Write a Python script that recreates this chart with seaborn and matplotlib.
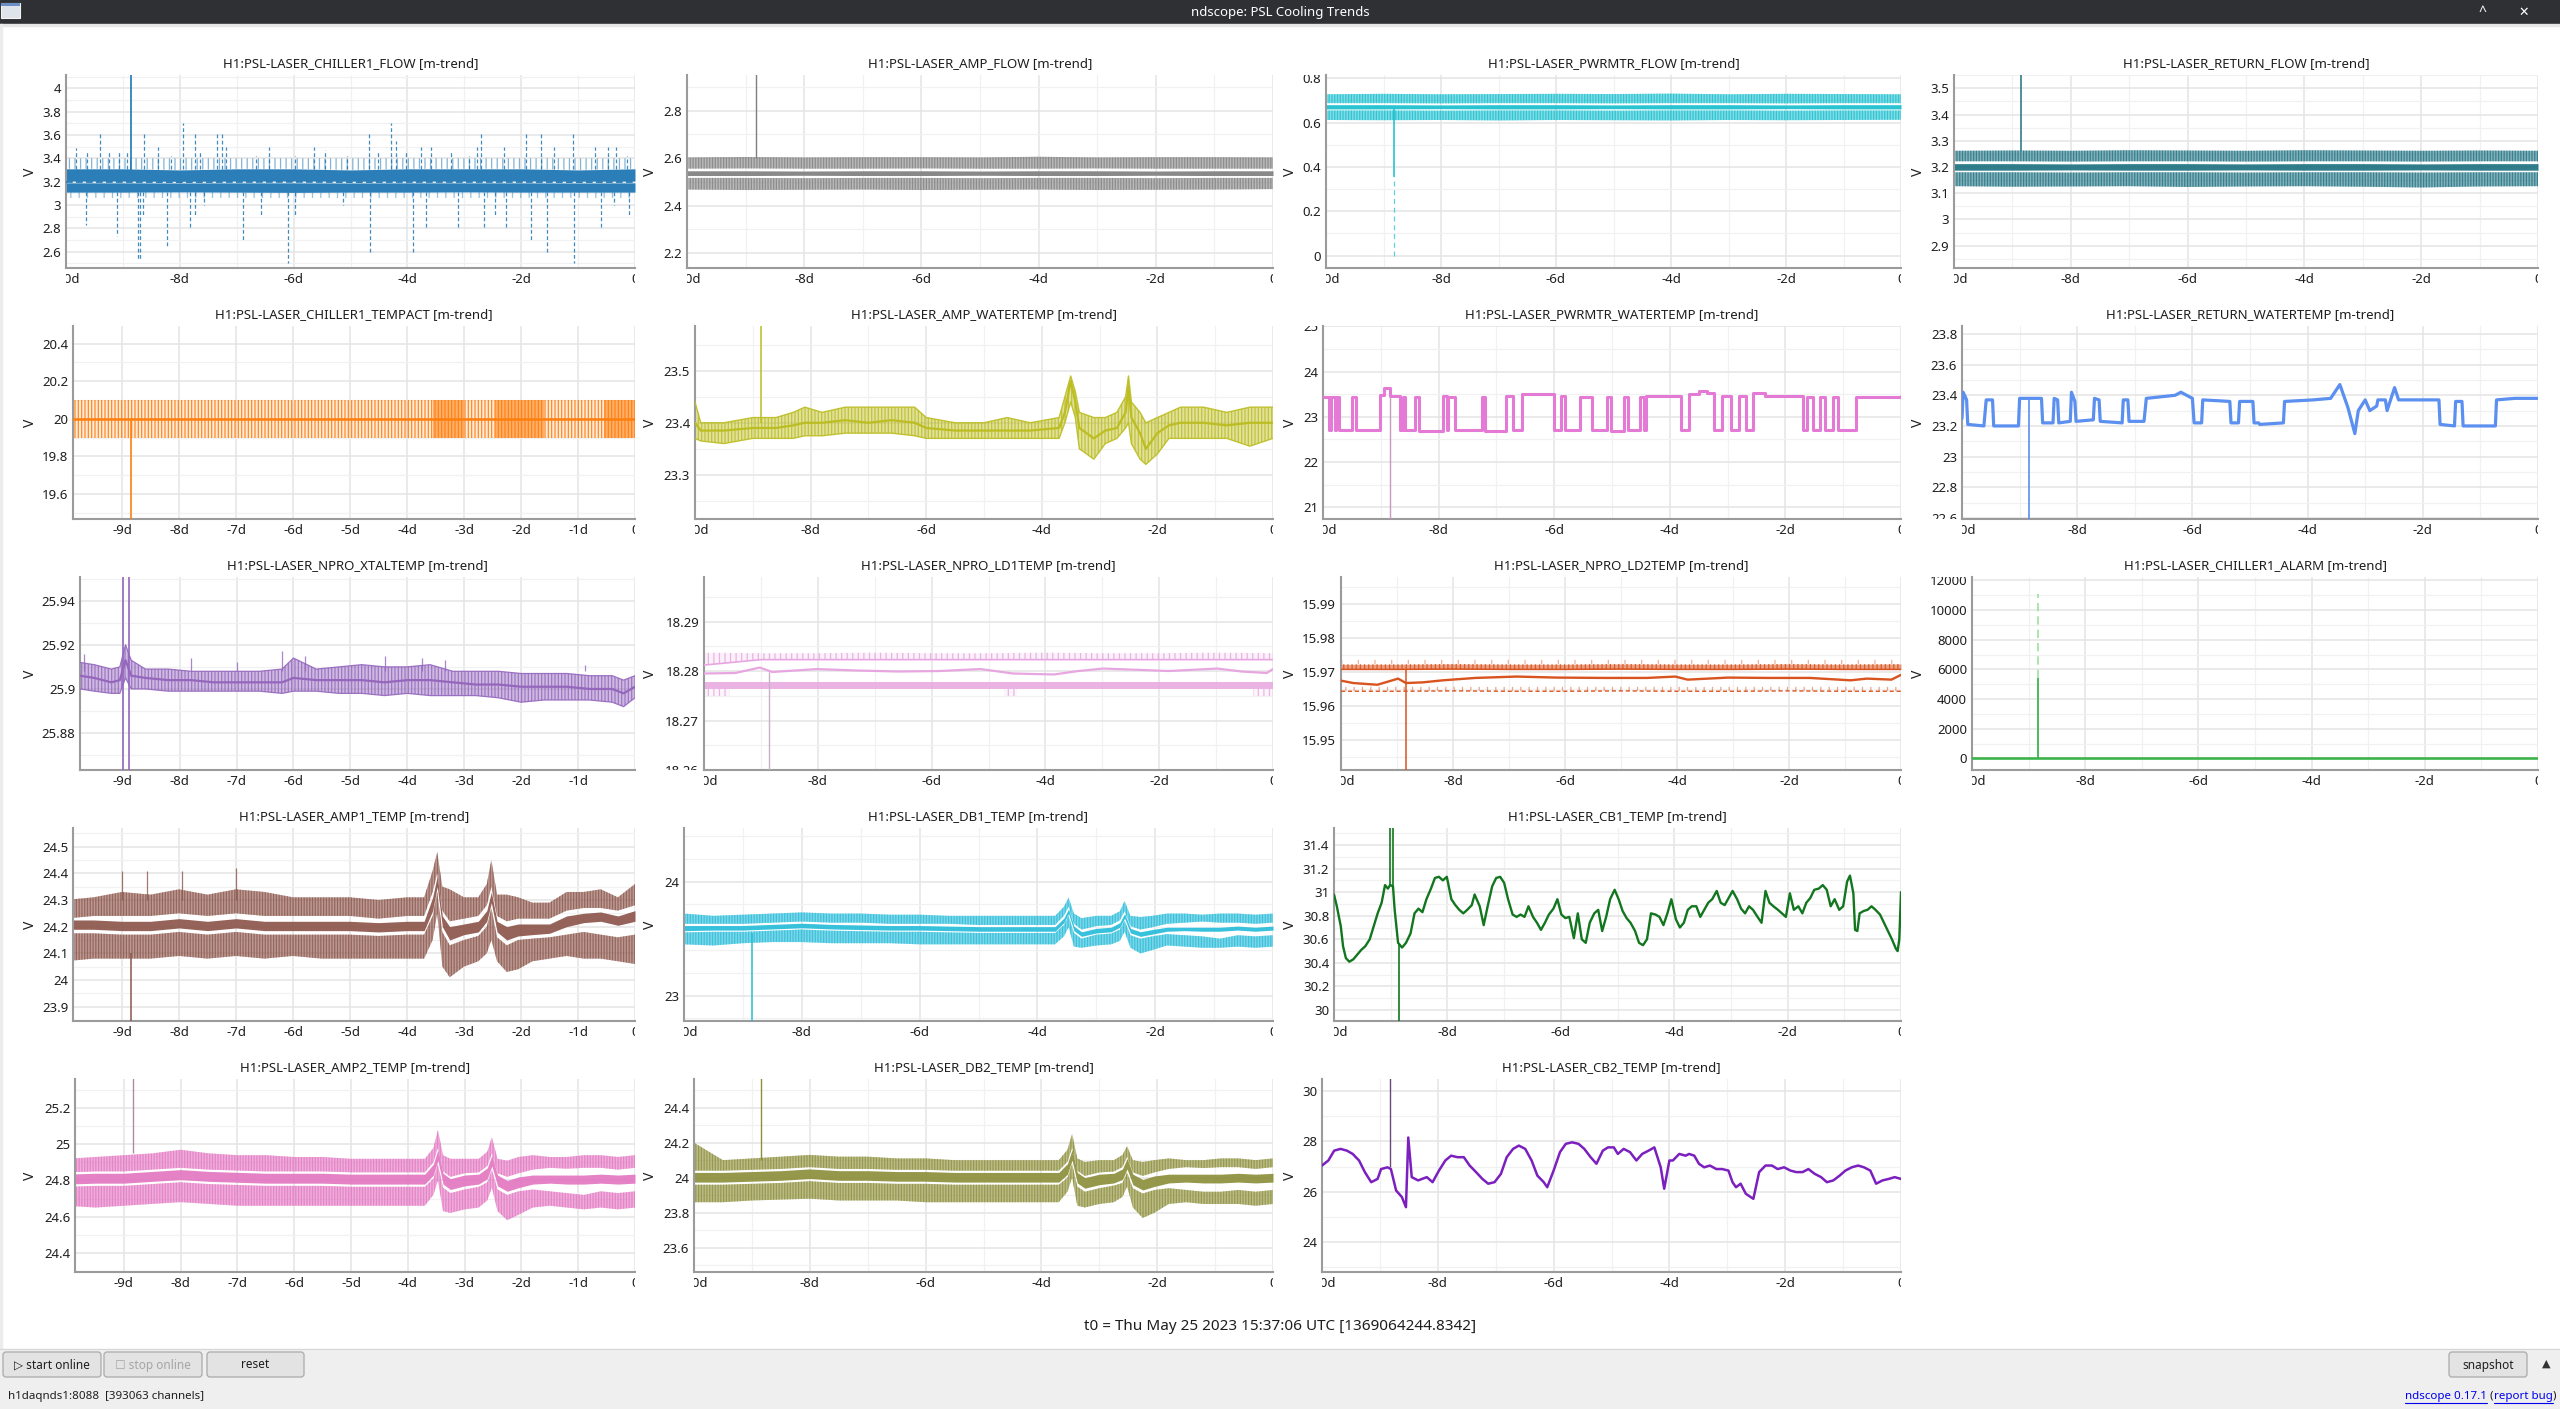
import numpy as np
import matplotlib
matplotlib.use("Agg")
import matplotlib.pyplot as plt
import seaborn as sns
from matplotlib.ticker import MultipleLocator, FixedLocator, FuncFormatter, NullLocator
from matplotlib.transforms import Bbox, TransformedBbox
from matplotlib.patches import Rectangle, FancyBboxPatch
from matplotlib.colors import to_rgba

# ======================= DATA (days relative to t0) =======================
T_FLAT = [-10, -9, -8, -7, -6, -5, -4, -3, -2, -1, 0]

# --- H1:PSL-LASER_CHILLER1_FLOW ---
cf_max_hi = [3.31, 3.31, 3.30, 3.31, 3.31, 3.30, 3.31, 3.31, 3.31, 3.30, 3.31]
cf_max_lo = [3.205, 3.205, 3.203, 3.205, 3.206, 3.204, 3.205, 3.205, 3.206, 3.204, 3.205]
cf_mean = [3.197, 3.197, 3.196, 3.197, 3.198, 3.196, 3.197, 3.197, 3.197, 3.196, 3.197]
cf_min_hi = [3.19, 3.19, 3.189, 3.19, 3.19, 3.189, 3.19, 3.19, 3.19, 3.189, 3.19]
cf_min_lo = [3.11, 3.11, 3.112, 3.11, 3.108, 3.11, 3.11, 3.112, 3.11, 3.11, 3.11]
cf_comb_top = 3.40
cf_comb_bot = 3.06
cf_up_t = [-9.82, -9.63, -9.40, -9.24, -9.06, -8.92, -8.63, -8.38, -8.15, -7.94, -7.74, -7.65, -7.35,
           -7.25, -7.19, -6.66, -6.43, -5.97, -5.65, -5.45, -5.06, -4.68, -4.52, -4.29, -4.20, -4.03,
           -3.76, -3.59, -3.23, -2.92, -2.77, -2.71, -2.31, -1.91, -1.66, -1.43, -1.09, -0.71, -0.48,
           -0.33, -0.14]
cf_up_v = [3.49, 3.45, 3.61, 3.45, 3.45, 3.45, 3.61, 3.50, 3.42, 3.70, 3.61, 3.45, 3.61,
           3.61, 3.50, 3.42, 3.50, 3.42, 3.50, 3.47, 3.42, 3.61, 3.45, 3.70, 3.55, 3.45,
           3.50, 3.50, 3.45, 3.42, 3.50, 3.61, 3.50, 3.61, 3.61, 3.50, 3.61, 3.50, 3.50,
           3.50, 3.42]
cf_dn_t = [-9.65, -9.10, -8.73, -8.70, -8.64, -8.22, -7.82, -7.74, -7.57, -6.89, -6.58, -6.10, -5.97,
           -5.13, -4.65, -3.91, -3.68, -3.11, -2.65, -2.46, -2.27, -1.82, -1.55, -1.08, -0.60, -0.37, -0.11]
cf_dn_v = [2.83, 2.73, 2.54, 2.54, 2.90, 2.64, 2.80, 2.90, 3.00, 2.70, 2.90, 2.50, 2.90,
           3.00, 2.60, 2.60, 2.80, 2.80, 2.80, 2.90, 2.80, 2.70, 2.60, 2.50, 2.80, 3.00, 2.90]
cf_glitch = (-8.85, 3.30, 4.30)

# --- H1:PSL-LASER_AMP_FLOW ---
af_max_hi = [2.603, 2.605, 2.603, 2.604, 2.604, 2.603, 2.606, 2.603, 2.604, 2.604, 2.603]
af_max_lo = [2.556, 2.557, 2.556, 2.556, 2.557, 2.556, 2.556, 2.557, 2.556, 2.556, 2.556]
af_mean_hi = [2.547, 2.547, 2.546, 2.547, 2.547, 2.546, 2.547, 2.547, 2.546, 2.547, 2.547]
af_mean_lo = [2.527, 2.527, 2.528, 2.527, 2.527, 2.528, 2.527, 2.527, 2.528, 2.527, 2.527]
af_min_hi = [2.517, 2.517, 2.516, 2.517, 2.517, 2.516, 2.517, 2.517, 2.516, 2.517, 2.517]
af_min_lo = [2.468, 2.466, 2.467, 2.468, 2.466, 2.467, 2.468, 2.466, 2.467, 2.468, 2.470]
af_glitch = (-8.82, 2.60, 3.00)

# --- H1:PSL-LASER_PWRMTR_FLOW ---
pf_max_hi = [0.728, 0.730, 0.728, 0.729, 0.730, 0.729, 0.731, 0.728, 0.730, 0.729, 0.728]
pf_max_lo = [0.688, 0.688, 0.687, 0.688, 0.688, 0.687, 0.688, 0.688, 0.687, 0.688, 0.688]
pf_mean_hi = [0.681, 0.681, 0.680, 0.681, 0.681, 0.680, 0.681, 0.681, 0.680, 0.681, 0.681]
pf_mean_lo = [0.662, 0.662, 0.663, 0.662, 0.662, 0.663, 0.662, 0.662, 0.663, 0.662, 0.662]
pf_min_hi = [0.655, 0.655, 0.654, 0.655, 0.655, 0.654, 0.655, 0.655, 0.654, 0.655, 0.655]
pf_min_lo = [0.612, 0.611, 0.612, 0.610, 0.612, 0.611, 0.610, 0.612, 0.611, 0.612, 0.613]
pf_glitch = (-8.82, 0.66, 0.356, 0.0)

# --- H1:PSL-LASER_RETURN_FLOW ---
rf_max_hi = [3.262, 3.263, 3.262, 3.264, 3.263, 3.262, 3.264, 3.263, 3.262, 3.263, 3.262]
rf_max_lo = [3.222, 3.222, 3.221, 3.222, 3.222, 3.221, 3.222, 3.222, 3.221, 3.222, 3.222]
rf_mean_hi = [3.213, 3.213, 3.212, 3.213, 3.213, 3.212, 3.213, 3.213, 3.212, 3.213, 3.213]
rf_mean_lo = [3.188, 3.188, 3.189, 3.188, 3.188, 3.189, 3.188, 3.188, 3.189, 3.188, 3.188]
rf_min_hi = [3.180, 3.180, 3.179, 3.180, 3.180, 3.179, 3.180, 3.180, 3.179, 3.180, 3.180]
rf_min_lo = [3.127, 3.125, 3.126, 3.127, 3.124, 3.126, 3.127, 3.125, 3.122, 3.126, 3.127]
rf_glitch = (-8.85, 3.26, 3.60)

# --- H1:PSL-LASER_CHILLER1_TEMPACT ---
ta_max = [20.1, 20.1, 20.1, 20.1, 20.1, 20.1, 20.1, 20.1, 20.1, 20.1, 20.1]
ta_mean = [20.0, 20.0, 20.0, 20.0, 20.0, 20.0, 20.0, 20.0, 20.0, 20.0, 20.0]
ta_min = [19.9, 19.9, 19.9, 19.9, 19.9, 19.9, 19.9, 19.9, 19.9, 19.9, 19.9]
ta_dense_t0 = [-3.55, -2.45, -0.55]
ta_dense_t1 = [-3.00, -1.60, 0.00]
ta_glitch = (-8.84, 20.0, 19.3)

# --- H1:PSL-LASER_AMP_WATERTEMP ---
aw_t = [-10, -9.9, -9.5, -9.0, -8.6, -8.3, -8.1, -7.8, -7.4, -7.0, -6.6, -6.2, -6.0, -5.5, -5.0, -4.6,
        -4.2, -3.7, -3.6, -3.5, -3.42, -3.35, -3.1, -2.9, -2.7, -2.55, -2.5, -2.45, -2.3, -2.2, -2.0,
        -1.8, -1.6, -1.2, -0.8, -0.4, 0]
aw_max = [23.44, 23.40, 23.40, 23.41, 23.41, 23.42, 23.43, 23.42, 23.43, 23.43, 23.43, 23.43, 23.41,
          23.40, 23.40, 23.41, 23.40, 23.41, 23.45, 23.49, 23.46, 23.42, 23.41, 23.41, 23.42, 23.45,
          23.49, 23.44, 23.42, 23.40, 23.41, 23.42, 23.43, 23.43, 23.42, 23.43, 23.43]
aw_mean = [23.40, 23.385, 23.385, 23.39, 23.39, 23.395, 23.40, 23.40, 23.405, 23.40, 23.405, 23.40,
           23.39, 23.385, 23.385, 23.385, 23.385, 23.39, 23.42, 23.48, 23.44, 23.39, 23.37, 23.385,
           23.39, 23.42, 23.47, 23.41, 23.38, 23.35, 23.38, 23.395, 23.40, 23.40, 23.395, 23.40, 23.40]
aw_min = [23.37, 23.365, 23.36, 23.37, 23.37, 23.37, 23.375, 23.375, 23.38, 23.38, 23.38, 23.375,
          23.37, 23.37, 23.37, 23.37, 23.37, 23.37, 23.40, 23.44, 23.41, 23.35, 23.33, 23.36, 23.37,
          23.39, 23.40, 23.36, 23.33, 23.32, 23.34, 23.37, 23.37, 23.37, 23.37, 23.355, 23.37]
aw_glitch = (-8.86, 23.40, 23.60)

# --- H1:PSL-LASER_PWRMTR_WATERTEMP (step levels, start times) ---
pw_t = [-10.00, -9.89, -9.86, -9.80, -9.78, -9.73, -9.49, -9.43, -9.01, -8.94, -8.84, -8.66, -8.62,
        -8.58, -8.40, -8.34, -7.92, -7.86, -7.84, -7.71, -7.60, -7.25, -7.19, -6.84, -6.71, -6.55,
        -6.01, -5.88, -5.81, -5.56, -5.34, -5.08, -5.02, -4.79, -4.73, -4.52, -4.45, -4.41, -3.80,
        -3.67, -3.50, -3.35, -3.23, -3.10, -2.94, -2.81, -2.68, -2.56, -2.35, -1.69, -1.63, -1.53,
        -1.41, -1.31, -1.18, -1.09, -0.77, 0.00]
pw_v = [23.45, 22.70, 23.45, 22.70, 23.45, 22.70, 23.45, 22.70, 23.48, 23.64, 23.47, 22.70, 23.45,
        22.70, 23.45, 22.69, 23.46, 22.70, 23.45, 22.70, 22.70, 23.45, 22.69, 23.46, 22.70, 23.50,
        22.70, 23.46, 22.70, 23.45, 22.70, 23.45, 22.69, 23.45, 22.70, 23.45, 22.70, 23.47, 22.70,
        23.50, 23.58, 23.52, 22.70, 23.46, 22.70, 23.46, 22.70, 23.52, 23.47, 22.70, 23.45, 22.70,
        23.45, 22.70, 23.45, 22.70, 23.45, 23.47]
pw_glitch = (-8.84, 23.45, 20.5)

# --- H1:PSL-LASER_RETURN_WATERTEMP ---
rw_t = [-10.00, -9.98, -9.92, -9.90, -9.62, -9.58, -9.47, -9.45, -9.02, -9.00, -8.62, -8.60, -8.42,
        -8.40, -8.34, -8.32, -8.12, -8.10, -8.04, -8.02, -7.72, -7.70, -7.62, -7.60, -7.22, -7.20,
        -7.12, -7.10, -6.84, -6.80, -6.30, -6.20, -6.00, -5.97, -5.84, -5.82, -5.35, -5.33, -5.20,
        -5.18, -4.95, -4.93, -4.85, -4.83, -4.42, -4.40, -3.90, -3.60, -3.44, -3.30, -3.18, -3.12,
        -3.00, -2.92, -2.80, -2.78, -2.65, -2.62, -2.49, -2.42, -2.10, -1.72, -1.70, -1.45, -1.43,
        -1.32, -1.30, -0.74, -0.72, -0.40, 0.00]
rw_v = [23.25, 23.42, 23.37, 23.21, 23.20, 23.37, 23.37, 23.20, 23.20, 23.38, 23.38, 23.22, 23.22,
        23.38, 23.37, 23.22, 23.23, 23.42, 23.36, 23.23, 23.24, 23.38, 23.37, 23.23, 23.22, 23.37,
        23.37, 23.23, 23.23, 23.38, 23.40, 23.42, 23.38, 23.22, 23.22, 23.37, 23.36, 23.22, 23.22,
        23.36, 23.36, 23.22, 23.22, 23.21, 23.22, 23.36, 23.37, 23.38, 23.47, 23.32, 23.15, 23.30,
        23.37, 23.30, 23.33, 23.37, 23.37, 23.30, 23.45, 23.37, 23.37, 23.37, 23.21, 23.20, 23.36,
        23.36, 23.20, 23.20, 23.37, 23.38, 23.38]
rw_glitch = (-8.84, 23.38, 22.4)

# --- H1:PSL-LASER_NPRO_XTALTEMP ---
xt_t = [-9.75, -9.5, -9.2, -9.05, -8.95, -8.85, -8.6, -8.2, -7.8, -7.4, -7.0, -6.6, -6.2, -6.0, -5.6,
        -5.2, -4.8, -4.4, -4.0, -3.6, -3.2, -2.8, -2.4, -2.0, -1.6, -1.2, -0.8, -0.4, -0.2, 0]
xt_max = [25.912, 25.911, 25.909, 25.910, 25.920, 25.913, 25.909, 25.909, 25.908, 25.908,
          25.908, 25.908, 25.909, 25.914, 25.909, 25.910, 25.911, 25.910, 25.910, 25.911,
          25.908, 25.908, 25.908, 25.907, 25.907, 25.907, 25.906, 25.906, 25.904, 25.906]
xt_mean = [25.906, 25.905, 25.903, 25.904, 25.913, 25.906, 25.905, 25.904, 25.904, 25.903,
           25.903, 25.903, 25.903, 25.905, 25.904, 25.904, 25.904, 25.903, 25.904, 25.904,
           25.903, 25.902, 25.902, 25.901, 25.901, 25.901, 25.900, 25.900, 25.898, 25.901]
xt_min = [25.900, 25.899, 25.898, 25.898, 25.905, 25.900, 25.900, 25.899, 25.899, 25.899,
          25.899, 25.899, 25.898, 25.899, 25.899, 25.898, 25.898, 25.897, 25.898, 25.897,
          25.897, 25.897, 25.896, 25.894, 25.895, 25.895, 25.895, 25.894, 25.892, 25.896]
xt_spk_t = [-9.68, -7.80, -7.00, -6.20, -5.80, -4.40, -3.75, -3.33, -0.87]
xt_spk_v = [25.916, 25.914, 25.912, 25.917, 25.915, 25.915, 25.914, 25.913, 25.911]
xt_glitch_t = [-9.00, -8.89]
xt_glitch_range = (25.80, 26.00)

# --- H1:PSL-LASER_NPRO_LD1TEMP ---
ld1_t = [-10, -9.45, -9.02, -8.8, -8.02, -7.3, -6.58, -5.86, -5.14, -4.57, -3.85, -3.42, -2.99,
         -2.27, -1.84, -0.98, -0.55, -0.11, 0]
ld1_mean = [18.2795, 18.2796, 18.2807, 18.2798, 18.2804, 18.2801, 18.2799, 18.2800, 18.2804,
            18.2795, 18.2793, 18.2800, 18.2805, 18.2802, 18.2800, 18.2805, 18.2799, 18.2796, 18.2804]
ld1_max_hi = [18.2837, 18.2836, 18.2836, 18.2837, 18.2836, 18.2836, 18.2837, 18.2836, 18.2836, 18.2837, 18.2836]
ld1_max_lo = [18.2812, 18.2823, 18.2823, 18.2823, 18.2823, 18.2823, 18.2823, 18.2823, 18.2823, 18.2823, 18.2823]
ld1_min_hi = [18.2777, 18.2777, 18.2777, 18.2777, 18.2777, 18.2777, 18.2777, 18.2777, 18.2777, 18.2777, 18.2777]
ld1_min_lo = [18.2763, 18.2763, 18.2763, 18.2763, 18.2763, 18.2763, 18.2763, 18.2763, 18.2763, 18.2763, 18.2763]
ld1_low_t0 = [-10.0, -4.72, -0.35]
ld1_low_t1 = [-9.55, -4.50, 0.0]
ld1_low_v = 18.2749
ld1_glitch = (-8.86, 18.2798, 18.25)

# --- H1:PSL-LASER_NPRO_LD2TEMP ---
ld2_t = [-10, -9.78, -9.35, -8.98, -8.84, -8.54, -8.18, -7.6, -6.87, -6.14, -5.27, -4.54, -4.03,
         -3.81, -3.09, -2.36, -1.63, -0.9, -0.61, -0.17, 0]
ld2_mean = [15.9674, 15.9667, 15.9662, 15.9680, 15.9667, 15.9669, 15.9675, 15.9682, 15.9686,
            15.9683, 15.9682, 15.9682, 15.9686, 15.9677, 15.9683, 15.9682, 15.9682, 15.9675,
            15.9680, 15.9677, 15.9691]
ld2_max_hi = [15.9722, 15.9722, 15.9723, 15.9722, 15.9722, 15.9723, 15.9722, 15.9722, 15.9723, 15.9722, 15.9723]
ld2_max_lo = [15.9707, 15.9707, 15.9708, 15.9707, 15.9707, 15.9708, 15.9707, 15.9707, 15.9708, 15.9707, 15.9707]
ld2_max_top = 15.9735
ld2_min_line = [15.9643, 15.9643, 15.9644, 15.9643, 15.9643, 15.9644, 15.9643, 15.9643, 15.9644, 15.9643, 15.9643]
ld2_min_streak = 15.9656
ld2_glitch = (-8.84, 15.9705, 15.93)

# --- H1:PSL-LASER_CHILLER1_ALARM ---
al_t = [-10, 0]
al_mean = [0, 0]
al_glitch = (-8.83, 0, 5400, 11100)

# --- shared grid for AMP1/DB1/AMP2/DB2 ---
T_B = [-10, -9.5, -9, -8.5, -8, -7.5, -7, -6.5, -6, -5.5, -5, -4.5, -4, -3.7, -3.55, -3.47, -3.38,
       -3.25, -3.0, -2.75, -2.6, -2.52, -2.42, -2.25, -2.05, -1.8, -1.5, -1.2, -0.9, -0.6, -0.3, 0]

# --- H1:PSL-LASER_AMP1_TEMP ---
a1_max_hi = [24.30, 24.31, 24.33, 24.32, 24.34, 24.32, 24.34, 24.33, 24.31, 24.31, 24.31, 24.30, 24.31, 24.31,
             24.41, 24.48, 24.35, 24.34, 24.31, 24.31, 24.36, 24.45, 24.32, 24.32, 24.31, 24.29, 24.29, 24.33,
             24.33, 24.34, 24.31, 24.36]
a1_max_lo = [24.23, 24.24, 24.24, 24.24, 24.25, 24.24, 24.25, 24.24, 24.24, 24.24, 24.24, 24.23, 24.24, 24.24,
             24.33, 24.40, 24.26, 24.22, 24.23, 24.24, 24.28, 24.35, 24.24, 24.22, 24.23, 24.23, 24.23, 24.26,
             24.27, 24.27, 24.26, 24.28]
a1_mean_hi = [24.225, 24.225, 24.22, 24.22, 24.23, 24.22, 24.23, 24.22, 24.22, 24.22, 24.22, 24.215, 24.22, 24.22,
              24.31, 24.39, 24.24, 24.20, 24.21, 24.22, 24.26, 24.33, 24.22, 24.20, 24.21, 24.21, 24.21, 24.24,
              24.25, 24.255, 24.24, 24.26]
a1_mean_lo = [24.19, 24.19, 24.185, 24.185, 24.195, 24.185, 24.195, 24.185, 24.185, 24.185, 24.185, 24.18, 24.185,
              24.185, 24.26, 24.35, 24.20, 24.15, 24.17, 24.18, 24.22, 24.29, 24.18, 24.15, 24.165, 24.17, 24.175,
              24.20, 24.215, 24.22, 24.205, 24.22]
a1_min_hi = [24.175, 24.175, 24.17, 24.17, 24.18, 24.17, 24.18, 24.17, 24.17, 24.17, 24.17, 24.165, 24.17, 24.17,
             24.24, 24.33, 24.18, 24.13, 24.15, 24.165, 24.20, 24.27, 24.16, 24.13, 24.15, 24.155, 24.16, 24.17,
             24.18, 24.17, 24.16, 24.17]
a1_min_lo = [24.07, 24.08, 24.08, 24.08, 24.09, 24.08, 24.09, 24.08, 24.09, 24.08, 24.08, 24.08, 24.08, 24.08,
             24.15, 24.25, 24.05, 24.01, 24.05, 24.07, 24.10, 24.15, 24.07, 24.03, 24.04, 24.07, 24.08, 24.09,
             24.08, 24.08, 24.07, 24.06]
a1_spk_t = [-9.00, -8.57, -7.95, -7.00]
a1_spk_v = [24.41, 24.41, 24.41, 24.42]
a1_glitch = (-8.84, 24.10, 23.80)

# --- H1:PSL-LASER_DB1_TEMP ---
d1_max_hi = [23.72, 23.70, 23.71, 23.72, 23.73, 23.72, 23.72, 23.71, 23.71, 23.70, 23.70, 23.70, 23.70, 23.70,
             23.78, 23.86, 23.72, 23.68, 23.70, 23.70, 23.74, 23.83, 23.70, 23.69, 23.70, 23.72, 23.72, 23.71,
             23.72, 23.72, 23.71, 23.72]
d1_max_lo = [23.63, 23.63, 23.63, 23.64, 23.65, 23.64, 23.64, 23.63, 23.63, 23.63, 23.62, 23.62, 23.62, 23.62,
             23.70, 23.78, 23.63, 23.58, 23.61, 23.62, 23.66, 23.74, 23.61, 23.58, 23.60, 23.63, 23.64, 23.65,
             23.64, 23.64, 23.63, 23.64]
d1_mean_hi = [23.615, 23.615, 23.615, 23.625, 23.635, 23.625, 23.62, 23.615, 23.615, 23.61, 23.605, 23.605, 23.605,
              23.605, 23.68, 23.76, 23.61, 23.56, 23.59, 23.60, 23.64, 23.72, 23.59, 23.56, 23.58, 23.60, 23.60,
              23.60, 23.60, 23.61, 23.60, 23.61]
d1_mean_lo = [23.57, 23.575, 23.575, 23.585, 23.595, 23.585, 23.58, 23.575, 23.575, 23.57, 23.565, 23.565, 23.565,
              23.565, 23.64, 23.72, 23.57, 23.52, 23.55, 23.56, 23.60, 23.68, 23.55, 23.52, 23.54, 23.565, 23.57,
              23.565, 23.565, 23.575, 23.565, 23.575]
d1_min_hi = [23.555, 23.56, 23.56, 23.57, 23.58, 23.57, 23.565, 23.56, 23.56, 23.555, 23.55, 23.55, 23.55, 23.55,
             23.62, 23.70, 23.55, 23.50, 23.535, 23.545, 23.58, 23.66, 23.53, 23.50, 23.52, 23.54, 23.53, 23.52,
             23.50, 23.53, 23.52, 23.53]
d1_min_lo = [23.45, 23.44, 23.46, 23.47, 23.47, 23.46, 23.46, 23.46, 23.45, 23.45, 23.45, 23.45, 23.45, 23.45,
             23.52, 23.60, 23.43, 23.42, 23.44, 23.45, 23.48, 23.56, 23.42, 23.37, 23.40, 23.44, 23.43, 23.42,
             23.42, 23.43, 23.42, 23.43]
d1_glitch = (-8.85, 23.55, 22.70)

# --- H1:PSL-LASER_CB1_TEMP ---
cb1_t = [-10.00, -9.95, -9.88, -9.84, -9.79,
         -9.73, -9.66, -9.59, -9.52, -9.45, -9.37, -9.30, -9.23, -9.16,
         -9.10, -9.05, -9.01, -8.96, -8.93,
         -8.87,
         -8.80, -8.73, -8.65, -8.58, -8.51, -8.44, -8.37, -8.29, -8.22, -8.15, -8.08, -8.01, -7.93, -7.86,
         -7.79, -7.72, -7.65, -7.57,
         -7.52,
         -7.43, -7.36, -7.29, -7.21, -7.14, -7.07, -7.00, -6.93, -6.85, -6.78,
         -6.71, -6.64, -6.57, -6.49, -6.42, -6.35, -6.28, -6.21, -6.13, -6.06,
         -5.99, -5.92, -5.85, -5.77, -5.70, -5.63, -5.56, -5.49, -5.41, -5.34,
         -5.27, -5.20, -5.13, -5.05, -4.98, -4.91, -4.84, -4.77, -4.69, -4.62,
         -4.55, -4.48, -4.41, -4.33, -4.26, -4.19, -4.12, -4.05, -3.97, -3.90,
         -3.83, -3.76, -3.69, -3.61, -3.54, -3.47, -3.40, -3.33, -3.25, -3.18,
         -3.11, -3.04, -2.97, -2.89, -2.82, -2.75, -2.68, -2.61, -2.53, -2.46,
         -2.39, -2.32, -2.25, -2.17, -2.10, -2.03, -1.96, -1.89, -1.81, -1.74,
         -1.67, -1.60, -1.53, -1.45, -1.38, -1.31, -1.24, -1.17, -1.09, -1.02,
         -0.95,
         -0.90, -0.84, -0.81, -0.77, -0.73,
         -0.66, -0.59, -0.52, -0.45, -0.37, -0.30, -0.23, -0.16, -0.09,
         -0.06, -0.03, 0.00]
cb1_v = [30.98, 30.88, 30.71, 30.54, 30.44,
         30.41, 30.43, 30.47, 30.51, 30.54, 30.60, 30.71, 30.82, 30.91,
         31.06, 31.03, 31.06, 31.05, 30.85,
         30.57,
         30.53, 30.57, 30.65, 30.82, 30.86, 30.83, 30.94, 31.03, 31.12, 31.13, 31.10, 31.13, 30.94, 30.89,
         30.85, 30.82, 30.85, 30.89,
         30.98,
         30.88, 30.72, 30.88, 31.05, 31.12, 31.13, 31.08, 30.94, 30.81, 30.79,
         30.81, 30.79, 30.88, 30.79, 30.74, 30.68, 30.74, 30.81, 30.86, 30.94,
         30.81, 30.78, 30.79, 30.61, 30.82, 30.60, 30.57, 30.74, 30.82, 30.85,
         30.67, 30.79, 30.94, 31.02, 30.94, 30.84, 30.78, 30.74, 30.67, 30.57,
         30.55, 30.60, 30.82, 30.81, 30.79, 30.72, 30.82, 30.94, 30.77, 30.70,
         30.74, 30.85, 30.88, 30.88, 30.79, 30.85, 30.91, 30.94, 31.01, 30.91,
         30.89, 30.95, 31.01, 30.94, 30.86, 30.82, 30.88, 30.85, 30.79, 30.74,
         31.01, 30.91, 30.88, 30.85, 30.82, 30.79, 30.99, 30.85, 30.88, 30.82,
         30.91, 30.95, 31.02, 31.03, 31.06, 31.02, 30.88, 30.94, 30.85, 30.88,
         31.09,
         31.14, 30.99, 30.68, 30.67, 30.82,
         30.84, 30.85, 30.88, 30.85, 30.81, 30.74, 30.67, 30.60, 30.52,
         30.50, 30.60, 31.00]
cb1_glitch_up_t = [-9.01, -8.96]
cb1_glitch_up = (31.05, 31.70)
cb1_glitch_dn = (-8.86, 30.55, 29.80)

# --- H1:PSL-LASER_AMP2_TEMP ---
a2_max_hi = [24.92, 24.93, 24.94, 24.95, 24.97, 24.95, 24.94, 24.94, 24.93, 24.93, 24.92, 24.92, 24.92, 24.92,
             24.98, 25.08, 24.94, 24.92, 24.92, 24.92, 24.96, 25.04, 24.92, 24.91, 24.93, 24.94, 24.93, 24.93,
             24.94, 24.94, 24.93, 24.94]
a2_max_lo = [24.845, 24.85, 24.85, 24.86, 24.87, 24.86, 24.855, 24.85, 24.85, 24.85, 24.845, 24.845, 24.845,
             24.845, 24.90, 24.98, 24.85, 24.82, 24.84, 24.845, 24.88, 24.95, 24.84, 24.82, 24.84, 24.86, 24.87,
             24.865, 24.87, 24.87, 24.86, 24.87]
a2_mean_hi = [24.835, 24.84, 24.84, 24.85, 24.86, 24.85, 24.845, 24.84, 24.84, 24.84, 24.835, 24.835, 24.835,
              24.835, 24.89, 24.97, 24.84, 24.81, 24.83, 24.835, 24.87, 24.94, 24.83, 24.80, 24.82, 24.83, 24.83,
              24.83, 24.83, 24.835, 24.83, 24.835]
a2_mean_lo = [24.78, 24.785, 24.785, 24.795, 24.805, 24.795, 24.79, 24.785, 24.785, 24.785, 24.78, 24.78, 24.78,
              24.78, 24.83, 24.91, 24.78, 24.75, 24.77, 24.78, 24.81, 24.88, 24.77, 24.74, 24.76, 24.78, 24.785,
              24.78, 24.78, 24.785, 24.78, 24.785]
a2_min_hi = [24.765, 24.77, 24.77, 24.78, 24.79, 24.78, 24.775, 24.77, 24.77, 24.77, 24.765, 24.765, 24.765,
             24.765, 24.81, 24.89, 24.76, 24.73, 24.75, 24.765, 24.79, 24.86, 24.75, 24.72, 24.74, 24.75, 24.74,
             24.73, 24.72, 24.74, 24.73, 24.74]
a2_min_lo = [24.66, 24.65, 24.66, 24.67, 24.68, 24.67, 24.66, 24.66, 24.66, 24.66, 24.66, 24.66, 24.66, 24.66,
             24.72, 24.80, 24.63, 24.62, 24.64, 24.65, 24.69, 24.76, 24.63, 24.58, 24.61, 24.65, 24.66, 24.65,
             24.64, 24.65, 24.64, 24.65]
a2_glitch = (-8.83, 24.95, 25.40)

# --- H1:PSL-LASER_DB2_TEMP ---
d2_max_hi = [24.20, 24.10, 24.11, 24.12, 24.13, 24.12, 24.12, 24.11, 24.11, 24.10, 24.10, 24.10, 24.10, 24.10,
             24.16, 24.25, 24.11, 24.09, 24.10, 24.10, 24.13, 24.18, 24.10, 24.09, 24.10, 24.11, 24.10, 24.10,
             24.11, 24.11, 24.10, 24.11]
d2_max_lo = [24.04, 24.04, 24.045, 24.05, 24.06, 24.05, 24.05, 24.045, 24.045, 24.04, 24.04, 24.04, 24.04, 24.04,
             24.09, 24.17, 24.04, 24.01, 24.03, 24.035, 24.06, 24.12, 24.03, 24.01, 24.03, 24.05, 24.06, 24.055,
             24.06, 24.06, 24.05, 24.06]
d2_mean_hi = [24.03, 24.03, 24.035, 24.04, 24.05, 24.04, 24.04, 24.035, 24.035, 24.03, 24.03, 24.03, 24.03, 24.03,
              24.08, 24.16, 24.03, 24.00, 24.02, 24.025, 24.05, 24.11, 24.02, 23.99, 24.01, 24.02, 24.02, 24.02,
              24.02, 24.025, 24.02, 24.025]
d2_mean_lo = [23.975, 23.975, 23.98, 23.985, 23.995, 23.985, 23.985, 23.98, 23.98, 23.975, 23.975, 23.975, 23.975,
              23.975, 24.02, 24.10, 23.97, 23.94, 23.96, 23.97, 23.99, 24.05, 23.96, 23.93, 23.95, 23.97, 23.975,
              23.97, 23.97, 23.975, 23.97, 23.975]
d2_min_hi = [23.96, 23.96, 23.965, 23.97, 23.98, 23.97, 23.97, 23.965, 23.965, 23.96, 23.96, 23.96, 23.96, 23.96,
             24.00, 24.08, 23.95, 23.92, 23.94, 23.955, 23.97, 24.03, 23.94, 23.91, 23.93, 23.94, 23.93, 23.92,
             23.92, 23.93, 23.92, 23.93]
d2_min_lo = [23.86, 23.86, 23.87, 23.875, 23.88, 23.87, 23.87, 23.87, 23.86, 23.86, 23.86, 23.86, 23.86, 23.86,
             23.92, 24.00, 23.84, 23.83, 23.85, 23.86, 23.89, 23.95, 23.83, 23.77, 23.80, 23.85, 23.86, 23.85,
             23.85, 23.85, 23.84, 23.85]
d2_glitch = (-8.85, 24.10, 24.70)

# --- H1:PSL-LASER_CB2_TEMP ---
cb2_t = [-10.00, -9.89, -9.79, -9.68, -9.57, -9.47, -9.36, -9.26, -9.15, -9.04,
         -8.98, -8.87, -8.81, -8.72, -8.62, -8.55, -8.51, -8.45, -8.34, -8.19,
         -8.09, -7.98, -7.87, -7.77, -7.66, -7.55, -7.45, -7.34, -7.23, -7.13,
         -7.02, -6.91, -6.81, -6.70, -6.60, -6.49, -6.38, -6.28, -6.17, -6.11,
         -6.00, -5.89, -5.79, -5.68, -5.57, -5.47, -5.36, -5.26, -5.15, -5.06,
         -4.96, -4.89, -4.79, -4.68, -4.57, -4.47, -4.36, -4.26, -4.15, -4.09,
         -4.00, -3.94, -3.83, -3.72, -3.66, -3.57, -3.49, -3.40, -3.30, -3.19,
         -3.09, -2.98, -2.91, -2.85, -2.77, -2.68, -2.55, -2.45, -2.34, -2.23,
         -2.13, -2.02, -1.91, -1.81, -1.70, -1.60, -1.49, -1.38, -1.28, -1.17,
         -1.06, -0.96, -0.85, -0.74, -0.64, -0.53, -0.43, -0.32, -0.21, -0.11,
         0.00]
cb2_v = [27.04, 27.24, 27.63, 27.70, 27.63, 27.50, 27.24, 26.78, 26.38, 26.51,
         26.90, 26.97, 26.90, 26.05, 25.79, 25.39, 28.15, 26.58, 26.45, 26.58,
         26.38, 26.84, 27.24, 27.43, 27.37, 27.37, 27.04, 26.78, 26.51, 26.32,
         26.38, 26.71, 27.37, 27.70, 27.83, 27.70, 27.24, 26.64, 26.38, 26.18,
         26.84, 27.57, 27.90, 27.96, 27.90, 27.70, 27.37, 27.11, 27.63, 27.76,
         27.76, 27.50, 27.70, 27.57, 27.24, 27.50, 27.63, 27.76, 26.97, 26.12,
         27.24, 27.24, 27.50, 27.43, 27.50, 27.43, 27.11, 26.97, 27.04, 26.90,
         26.90, 26.84, 26.38, 26.18, 26.32, 25.92, 25.72, 26.78, 27.04, 27.04,
         26.90, 26.97, 26.84, 26.78, 26.78, 26.90, 26.71, 26.58, 26.38, 26.45,
         26.64, 26.84, 26.97, 27.04, 26.97, 26.84, 26.32, 26.45, 26.51, 26.58,
         26.51]
cb2_glitch = (-8.83, 27.00, 31.00)

# ======================= STYLE / LAYOUT =======================
sns.set_theme(style="white")
plt.rcParams["font.family"] = ["Noto Sans", "DejaVu Sans"]
plt.rcParams["hatch.linewidth"] = 0.9

W, H = 2560, 1409
fig = plt.figure(figsize=(W / 100, H / 100), dpi=100)
fig.patch.set_facecolor("white")

deco = fig.add_axes([0, 0, 1, 1])
deco.set_xlim(0, W)
deco.set_ylim(H, 0)
deco.axis("off")
deco.set_zorder(0)

ROW_TB = [(75, 268), (326, 519), (577, 770), (828, 1021), (1079, 1272)]
COL_R = [635, 1273, 1901, 2538]
LEFTS = [[66, 687, 1326, 1954], [73, 695, 1323, 1962], [80, 704, 1341, 1972],
         [73, 684, 1334, None], [75, 694, 1322, None]]
YLAB_X = [30, 651, 1290, 1918]
TXT = "#1e1e1e"


def yfmt(v, pos):
    s = f"{v:.6f}".rstrip("0").rstrip(".")
    return "0" if s in ("-0", "") else s


def new_ax(r, c):
    top, bot = ROW_TB[r]
    left, right = LEFTS[r][c], COL_R[c]
    ax = fig.add_axes([left / W, 1 - bot / H, (right - left) / W, (bot - top) / H])
    ax.set_zorder(2)
    return ax


def style(ax, r, c, title, ylim, ymaj, ymin, xmode, xlim=(-10, 0), zero=True):
    top, bot = ROW_TB[r]
    left, right = LEFTS[r][c], COL_R[c]
    ax.set_facecolor("white")
    ax.set_xlim(*xlim)
    ax.set_ylim(*ylim)
    ax.set_xlabel("")
    ax.set_ylabel("")
    for s in ("top", "right"):
        ax.spines[s].set_visible(False)
    for s in ("left", "bottom"):
        ax.spines[s].set_color("#9b9b9b")
        ax.spines[s].set_linewidth(1.5)
    ax.yaxis.set_major_locator(MultipleLocator(ymaj))
    ax.yaxis.set_minor_locator(MultipleLocator(ymin))
    ax.yaxis.set_major_formatter(FuncFormatter(yfmt))
    if xmode == "2d":
        ticks = [-10, -8, -6, -4, -2, 0]
        labels = ["-10d", "-8d", "-6d", "-4d", "-2d", "0"]
        ax.xaxis.set_minor_locator(FixedLocator([-9, -7, -5, -3, -1]))
    else:
        ticks = list(range(-9, 1))
        labels = [f"{t}d" for t in range(-9, 0)] + (["0"] if zero else [""])
        ax.xaxis.set_minor_locator(NullLocator())
    ax.xaxis.set_major_locator(FixedLocator(ticks))
    ax.set_xticklabels(labels)
    ax.set_axisbelow(True)
    ax.grid(True, which="major", color="#e4e4e4", linewidth=1.1)
    ax.grid(True, which="minor", color="#f1f1f1", linewidth=0.9)
    ax.tick_params(axis="both", which="both", length=0, labelsize=9.5, labelcolor=TXT, pad=3.5)
    ax.set_title(title, fontsize=9.5, color=TXT, pad=6)
    ax.text((YLAB_X[c] - left) / (right - left), 0.5, "V", transform=ax.transAxes, rotation=90,
            ha="center", va="center", fontsize=10, color=TXT, clip_on=False)
    xclip = TransformedBbox(Bbox([[0, -1], [1, 0.5]]), ax.transAxes)
    for lab in ax.get_xticklabels():
        lab.set_clip_box(xclip)
        lab.set_clip_on(True)
    yclip = TransformedBbox(Bbox([[-1, 0], [0.5, 1]]), ax.transAxes)
    for lab in ax.get_yticklabels():
        lab.set_clip_box(yclip)
        lab.set_clip_on(True)


def fill(ax, t, lo, hi, color, alpha, z=2):
    ax.fill_between(t, lo, hi, color=color, alpha=alpha, linewidth=0, zorder=z)


def hatch(ax, t, lo, hi, color, a_face, a_edge, pattern="||||", z=2):
    ax.fill_between(t, lo, hi, facecolor=to_rgba(color, a_face), edgecolor=to_rgba(color, a_edge),
                    hatch=pattern, linewidth=0, zorder=z)


def line(ax, t, v, color, lw, ls="-", alpha=1.0, z=3, **kw):
    sns.lineplot(x=t, y=v, ax=ax, color=color, linewidth=lw, linestyle=ls, alpha=alpha,
                 estimator=None, sort=False, zorder=z, **kw)


def spikes(ax, t, lo, hi, color, lw=0.9, ls="-", alpha=1.0):
    ax.vlines(t, lo, hi, colors=[to_rgba(color, alpha)], linewidth=lw, linestyles=ls, zorder=3)


def three_bands(ax, t, mx_lo, mx_hi, mn_lo, mn_hi, mi_lo, mi_hi, color, a_side=0.55, a_mid=0.92):
    # noisy min / max traces: light fill with dense vertical streak texture
    hatch(ax, t, mx_lo, mx_hi, color, a_side, 0.75, "||||||")
    fill(ax, t, mn_lo, mn_hi, color, a_mid)
    hatch(ax, t, mi_lo, mi_hi, color, a_side, 0.75, "||||||")


# ======================= PANELS =======================
# Row 1
c = "#1f77b4"
ax = new_ax(0, 0)
fill(ax, T_FLAT, cf_max_lo, cf_max_hi, c, 0.95)
fill(ax, T_FLAT, cf_min_lo, cf_min_hi, c, 0.95)
hatch(ax, T_FLAT, cf_max_hi, [cf_comb_top] * len(T_FLAT), c, 0.0, 0.55, "|||")
hatch(ax, T_FLAT, [cf_comb_bot] * len(T_FLAT), cf_min_lo, c, 0.0, 0.45, "||")
line(ax, T_FLAT, cf_mean, c, 1.2, ls=(0, (4, 2)))
spikes(ax, cf_up_t, cf_max_hi[0], cf_up_v, c, lw=0.9, ls=(0, (3, 2)), alpha=0.85)
spikes(ax, cf_dn_t, cf_min_lo[0], cf_dn_v, c, lw=0.9, ls=(0, (3, 2)), alpha=0.85)
spikes(ax, [cf_glitch[0]], cf_glitch[1], cf_glitch[2], c, lw=1.2)
style(ax, 0, 0, "H1:PSL-LASER_CHILLER1_FLOW [m-trend]", (2.46, 4.114), 0.2, 0.1, "2d")

c = "#7f7f7f"
ax = new_ax(0, 1)
three_bands(ax, T_FLAT, af_max_lo, af_max_hi, af_mean_lo, af_mean_hi, af_min_lo, af_min_hi, c)
spikes(ax, [af_glitch[0]], af_glitch[1], af_glitch[2], c, lw=1.0)
style(ax, 0, 1, "H1:PSL-LASER_AMP_FLOW [m-trend]", (2.138, 2.95), 0.2, 0.1, "2d")

c = "#17becf"
ax = new_ax(0, 2)
three_bands(ax, T_FLAT, pf_max_lo, pf_max_hi, pf_mean_lo, pf_mean_hi, pf_min_lo, pf_min_hi, c)
spikes(ax, [pf_glitch[0]], pf_glitch[2], pf_glitch[1], c, lw=1.1)
spikes(ax, [pf_glitch[0]], pf_glitch[3], pf_glitch[2], c, lw=0.9, ls=(0, (4, 3)), alpha=0.7)
style(ax, 0, 2, "H1:PSL-LASER_PWRMTR_FLOW [m-trend]", (-0.056, 0.815), 0.2, 0.1, "2d")

c = "#1f7282"
ax = new_ax(0, 3)
three_bands(ax, T_FLAT, rf_max_lo, rf_max_hi, rf_mean_lo, rf_mean_hi, rf_min_lo, rf_min_hi, c)
spikes(ax, [rf_glitch[0]], rf_glitch[1], rf_glitch[2], c, lw=1.1)
style(ax, 0, 3, "H1:PSL-LASER_RETURN_FLOW [m-trend]", (2.815, 3.551), 0.1, 0.05, "2d")

# Row 2
c = "#ff7f0e"
ax = new_ax(1, 0)
hatch(ax, T_FLAT, ta_mean, ta_max, c, 0.15, 0.9, "|||||")
hatch(ax, T_FLAT, ta_min, ta_mean, c, 0.15, 0.9, "|||||")
for a0, a1 in zip(ta_dense_t0, ta_dense_t1):
    fill(ax, [a0, a1], [ta_min[0], ta_min[0]], [ta_max[0], ta_max[0]], c, 0.55)
line(ax, T_FLAT, ta_mean, c, 1.8)
spikes(ax, [ta_glitch[0]], ta_glitch[2], ta_glitch[1], c, lw=1.2)
style(ax, 1, 0, "H1:PSL-LASER_CHILLER1_TEMPACT [m-trend]", (19.467, 20.494), 0.2, 0.1, "1d",
      xlim=(-9.86, 0))

c = "#bcbd22"
ax = new_ax(1, 1)
hatch(ax, aw_t, aw_min, aw_max, c, 0.45, 0.8, "|||||")
line(ax, aw_t, aw_max, c, 1.0, alpha=0.9)
line(ax, aw_t, aw_min, c, 1.0, alpha=0.9)
line(ax, aw_t, aw_mean, c, 1.6)
spikes(ax, [aw_glitch[0]], aw_glitch[1], aw_glitch[2], c, lw=1.1)
style(ax, 1, 1, "H1:PSL-LASER_AMP_WATERTEMP [m-trend]", (23.215, 23.586), 0.1, 0.05, "2d")

c = "#e47ad6"
ax = new_ax(1, 2)
line(ax, pw_t, pw_v, c, 2.2, drawstyle="steps-post")
spikes(ax, [pw_glitch[0]], pw_glitch[2], pw_glitch[1], "#c89ac0", lw=1.0)
style(ax, 1, 2, "H1:PSL-LASER_PWRMTR_WATERTEMP [m-trend]", (20.74, 25.01), 1, 0.5, "2d")

c = "#5b8ff0"
ax = new_ax(1, 3)
line(ax, rw_t, rw_v, c, 2.3)
spikes(ax, [rw_glitch[0]], rw_glitch[2], rw_glitch[1], c, lw=1.2)
style(ax, 1, 3, "H1:PSL-LASER_RETURN_WATERTEMP [m-trend]", (22.593, 23.852), 0.2, 0.1, "2d")

# Row 3
c = "#9467bd"
ax = new_ax(2, 0)
hatch(ax, xt_t, xt_min, xt_max, c, 0.45, 0.8, "|||||")
line(ax, xt_t, xt_max, c, 0.9, alpha=0.9)
line(ax, xt_t, xt_min, c, 0.9, alpha=0.9)
line(ax, xt_t, xt_mean, c, 1.6)
spikes(ax, xt_spk_t, xt_max[0] - 0.004, xt_spk_v, c, lw=0.9, alpha=0.8)
spikes(ax, xt_glitch_t, xt_glitch_range[0], xt_glitch_range[1], c, lw=1.2)
style(ax, 2, 0, "H1:PSL-LASER_NPRO_XTALTEMP [m-trend]", (25.8633, 25.9507), 0.02, 0.01, "1d",
      xlim=(-9.75, 0), zero=False)

c = "#e8a6e0"
ax = new_ax(2, 1)
hatch(ax, T_FLAT, ld1_max_lo, ld1_max_hi, c, 0.15, 0.85, "|||")
line(ax, T_FLAT, ld1_max_lo, c, 1.2)
fill(ax, T_FLAT, ld1_min_lo, ld1_min_hi, c, 0.85)
for a0, a1 in zip(ld1_low_t0, ld1_low_t1):
    hatch(ax, [a0, a1], [ld1_low_v, ld1_low_v], [ld1_min_lo[0], ld1_min_lo[0]], c, 0.1, 0.8, "|||")
line(ax, ld1_t, ld1_mean, c, 1.6)
spikes(ax, [ld1_glitch[0]], ld1_glitch[2], ld1_glitch[1], "#c8b0c6", lw=1.0)
style(ax, 2, 1, "H1:PSL-LASER_NPRO_LD1TEMP [m-trend]", (18.26, 18.299), 0.01, 0.005, "2d")

c = "#d9531e"
ax = new_ax(2, 2)
fill(ax, T_FLAT, ld2_max_lo, ld2_max_hi, c, 0.55)
hatch(ax, T_FLAT, ld2_max_lo, ld2_max_hi, c, 0.0, 0.9, "||||")
hatch(ax, T_FLAT, ld2_max_hi, [ld2_max_top] * len(T_FLAT), c, 0.0, 0.45, "|")
line(ax, T_FLAT, ld2_max_lo, c, 1.1)
hatch(ax, T_FLAT, ld2_min_line, [ld2_min_streak] * len(T_FLAT), c, 0.0, 0.5, "||")
line(ax, T_FLAT, ld2_min_line, c, 1.0, ls=(0, (3, 2)))
line(ax, ld2_t, ld2_mean, c, 1.7)
spikes(ax, [ld2_glitch[0]], ld2_glitch[2], ld2_glitch[1], c, lw=1.1)
style(ax, 2, 2, "H1:PSL-LASER_NPRO_LD2TEMP [m-trend]", (15.9412, 15.9978), 0.01, 0.005, "2d")

c = "#3cb44b"
ax = new_ax(2, 3)
line(ax, al_t, al_mean, c, 1.9)
spikes(ax, [al_glitch[0]], al_glitch[1], al_glitch[2], c, lw=1.3)
spikes(ax, [al_glitch[0]], al_glitch[2], al_glitch[3], "#9fe0a0", lw=1.2, ls=(0, (5, 3)))
style(ax, 2, 3, "H1:PSL-LASER_CHILLER1_ALARM [m-trend]", (-776, 12222), 2000, 1000, "2d")

# Row 4
c = "#8c564b"
ax = new_ax(3, 0)
three_bands(ax, T_B, a1_max_lo, a1_max_hi, a1_mean_lo, a1_mean_hi, a1_min_lo, a1_min_hi, c, 0.6, 0.92)
spikes(ax, a1_spk_t, a1_max_hi[0], a1_spk_v, c, lw=0.9, alpha=0.8)
spikes(ax, [a1_glitch[0]], a1_glitch[2], a1_glitch[1], c, lw=1.1)
style(ax, 3, 0, "H1:PSL-LASER_AMP1_TEMP [m-trend]", (23.846, 24.57), 0.1, 0.05, "1d", xlim=(-9.86, 0))

c = "#26bcd9"
ax = new_ax(3, 1)
three_bands(ax, T_B, d1_max_lo, d1_max_hi, d1_mean_lo, d1_mean_hi, d1_min_lo, d1_min_hi, c, 0.6, 0.92)
spikes(ax, [d1_glitch[0]], d1_glitch[2], d1_glitch[1], c, lw=1.1)
style(ax, 3, 1, "H1:PSL-LASER_DB1_TEMP [m-trend]", (22.778, 24.47), 1, 0.2, "2d")

c = "#12761f"
ax = new_ax(3, 2)
line(ax, cb1_t, cb1_v, c, 1.7)
spikes(ax, cb1_glitch_up_t, cb1_glitch_up[0], cb1_glitch_up[1], c, lw=1.2)
spikes(ax, [cb1_glitch_dn[0]], cb1_glitch_dn[2], cb1_glitch_dn[1], c, lw=1.2)
style(ax, 3, 2, "H1:PSL-LASER_CB1_TEMP [m-trend]", (29.907, 31.544), 0.2, 0.1, "2d")

# Row 5
c = "#e377c2"
ax = new_ax(4, 0)
three_bands(ax, T_B, a2_max_lo, a2_max_hi, a2_mean_lo, a2_mean_hi, a2_min_lo, a2_min_hi, c, 0.6, 0.92)
spikes(ax, [a2_glitch[0]], a2_glitch[1], a2_glitch[2], "#b08aa6", lw=1.0)
style(ax, 4, 0, "H1:PSL-LASER_AMP2_TEMP [m-trend]", (24.293, 25.362), 0.2, 0.1, "1d", xlim=(-9.86, 0))

c = "#8c8f3a"
ax = new_ax(4, 1)
three_bands(ax, T_B, d2_max_lo, d2_max_hi, d2_mean_lo, d2_mean_hi, d2_min_lo, d2_min_hi, c, 0.6, 0.92)
spikes(ax, [d2_glitch[0]], d2_glitch[1], d2_glitch[2], c, lw=1.0)
style(ax, 4, 1, "H1:PSL-LASER_DB2_TEMP [m-trend]", (23.462, 24.563), 0.2, 0.1, "2d")

c = "#7b1fbf"
ax = new_ax(4, 2)
line(ax, cb2_t, cb2_v, c, 1.8)
spikes(ax, [cb2_glitch[0]], cb2_glitch[1], cb2_glitch[2], "#6a4a7a", lw=1.0)
style(ax, 4, 2, "H1:PSL-LASER_CB2_TEMP [m-trend]", (22.82, 30.47), 2, 1, "2d")

# ======================= WINDOW CHROME =======================
deco.add_patch(Rectangle((0, 0), W, 24, color="#2f3034", zorder=1))
deco.add_patch(Rectangle((1, 3), 19, 15, facecolor="#dfe3ea", edgecolor="#f4f4f4", lw=0.8, zorder=2))
deco.add_patch(Rectangle((1, 3), 19, 3, facecolor="#6d8fc8", edgecolor="none", zorder=3))
deco.text(W / 2, 12.5, "ndscope: PSL Cooling Trends", color="white", fontsize=9.5,
          fontweight="bold", ha="center", va="center", zorder=3)
deco.text(2482, 13, "^", color="white", fontsize=10, ha="center", va="center", zorder=3)
deco.text(2524, 12, "\u2715", color="white", fontsize=9, ha="center", va="center", zorder=3,
          family=["DejaVu Sans"])
deco.add_patch(Rectangle((0, 24), W, 2, color="#e6e6e6", zorder=1))
deco.add_patch(Rectangle((0, 24), 2, 1326, color="#ececec", zorder=1))

deco.text(W / 2, 1327, "t0 = Thu May 25 2023 15:37:06 UTC [1369064244.8342]", fontsize=11,
          color=TXT, ha="center", va="center")

deco.add_patch(Rectangle((0, 1349), W, 60, color="#efefef", zorder=1))
deco.plot([0, W], [1349, 1349], color="#d6d6d6", lw=0.8, zorder=2)

buttons = [(3, 98, "\u25b7 start online", TXT), (104, 98, "\u2610 stop online", "#a5a5a5"),
           (207, 97, "reset", TXT), (2449, 78, "snapshot", TXT)]
for x0, bw, label, col in buttons:
    deco.add_patch(FancyBboxPatch((x0, 1352), bw, 25, boxstyle="round,pad=0,rounding_size=3",
                                  facecolor="#e3e3e3", edgecolor="#aaaaaa", lw=0.9, zorder=2))
    deco.text(x0 + bw / 2, 1365, label, fontsize=8.5, color=col, ha="center", va="center", zorder=3,
              family=["Noto Sans", "DejaVu Sans"])
deco.text(2546, 1364, "\u25b2", fontsize=8, color="#333333", ha="center", va="center", zorder=3,
          family=["DejaVu Sans"])
deco.text(8, 1396, "h1daqnds1:8088  [393063 channels]", fontsize=8.3, color=TXT, ha="left",
          va="center", zorder=3)

renderer = fig.canvas.get_renderer()
xr = 2556
pieces = [(")", TXT, False), ("report bug", "#0000ee", True), (" (", TXT, False),
          ("ndscope 0.17.1", "#0000ee", True)]
for txt, col, ul in pieces:
    t = deco.text(xr, 1396, txt, fontsize=8.3, color=col, ha="right", va="center", zorder=3)
    bb = t.get_window_extent(renderer)
    w = bb.width
    if ul:
        deco.plot([xr - w, xr], [1403, 1403], color=col, lw=0.8, zorder=3)
    xr -= w

fig.savefig("out.png", dpi=100, facecolor="white")
